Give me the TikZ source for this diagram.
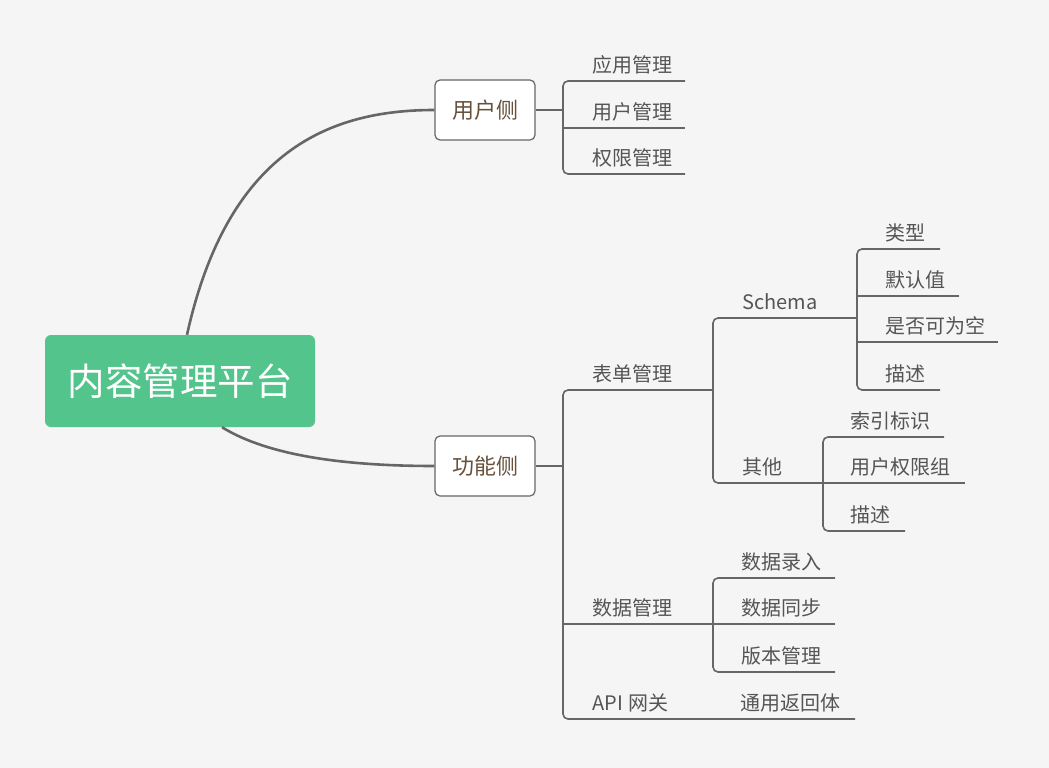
\documentclass[tikz,border=0pt]{standalone}
\usepackage{fontspec}
\newfontfamily\cjk{Noto Sans CJK SC}
\definecolor{bg}{HTML}{F5F5F5}
\definecolor{rootgreen}{HTML}{52C48C}
\definecolor{linegray}{HTML}{666666}
\definecolor{leafgray}{HTML}{555555}
\definecolor{brown}{HTML}{67513B}
\tikzset{
  leaf/.style={font=\cjk\fontsize{20pt}{23pt}\selectfont, text=leafgray, anchor=west, inner sep=0pt},
  mid/.style={draw=linegray, line width=1.2pt, fill=white, rounded corners=5pt, minimum width=100pt, minimum height=60pt, inner sep=0pt, font=\cjk\fontsize{22pt}{25pt}\selectfont, text=brown},
  rootbox/.style={fill=rootgreen, rounded corners=6pt, minimum width=270pt, minimum height=92pt, inner sep=0pt, font=\cjk\fontsize{37.5pt}{41pt}\selectfont, text=white},
  ln/.style={draw=linegray, line width=1.6pt},
  br/.style={draw=linegray, line width=1.6pt, rounded corners=5pt},
  cv/.style={draw=linegray, line width=2.6pt}
}
\begin{document}
\begin{tikzpicture}[x=1pt,y=-1pt]
\fill[bg] (0,0) rectangle (1049,768);
\useasboundingbox (0,0) rectangle (1049,768);

% main nodes
\node[rootbox] (root) at (180,381) {\raisebox{-3pt}{内容管理平台}};
\node[mid] (user) at (485,110) {用户侧};
\node[mid] (func) at (485,466) {功能侧};

% curves
\draw[cv] ([xshift=7pt]root.north) .. controls (228,150) and (330,110) .. (user.west);
\draw[cv] ([xshift=42pt]root.south) .. controls (262,452) and (330,466) .. (func.west);

% ---------- user side ----------
\coordinate (b1) at (563,110);
\draw[ln] (user.east) -- (b1);
\node[leaf] (u1) at (592,65) {应用管理};
\node[leaf] (u2) at (592,112) {用户管理};
\node[leaf] (u3) at (592,158) {权限管理};
\coordinate (u1e) at (685,81);
\coordinate (u2e) at (685,128);
\coordinate (u3e) at (685,174);
\draw[br] (u1e) -- (u1e -| b1) -- (u3e -| b1) -- (u3e);
\draw[ln] (u2e -| b1) -- (u2e);

% ---------- function side ----------
\coordinate (b2) at (563,466);
\draw[ln] (func.east) -- (b2);
\node[leaf] (f1) at (592,374) {表单管理};
\node[leaf] (f2) at (592,608) {数据管理};
\node[leaf] (f3) at (592,703) {API\hspace{6pt}网关};
\coordinate (f1e) at (713,390);
\coordinate (f2e) at (713,624);
\node[leaf] (g1) at (740,703) {通用返回体};
\coordinate (g1e) at (855,719);
\draw[br] (f1e) -- (f1e -| b2) -- (g1e -| b2) -- (g1e);
\draw[ln] (f2e -| b2) -- (f2e);

% 表单管理 children
\node[leaf] (s0) at (742,302) {Schema};
\node[leaf] (o0) at (742,467) {其他};
\coordinate (s0e) at (857,318);
\coordinate (o0e) at (823,483);
\draw[br] (s0e) -- (s0e -| f1e) -- (o0e -| f1e) -- (o0e);

% Schema children
\node[leaf] (s1) at (885,233) {类型};
\node[leaf] (s2) at (885,280) {默认值};
\node[leaf] (s3) at (885,326) {是否可为空};
\node[leaf] (s4) at (885,374) {描述};
\coordinate (s1e) at (940,249);
\coordinate (s2e) at (959,296);
\coordinate (s3e) at (998,342);
\coordinate (s4e) at (940,390);
\draw[br] (s1e) -- (s1e -| s0e) -- (s4e -| s0e) -- (s4e);
\draw[ln] (s2e -| s0e) -- (s2e);
\draw[ln] (s3e -| s0e) -- (s3e);

% 其他 children
\node[leaf] (o1) at (850,421) {索引标识};
\node[leaf] (o2) at (850,467) {用户权限组};
\node[leaf] (o3) at (850,515) {描述};
\coordinate (o1e) at (944,437);
\coordinate (o2e) at (965,483);
\coordinate (o3e) at (905,531);
\draw[br] (o1e) -- (o1e -| o0e) -- (o3e -| o0e) -- (o3e);
\draw[ln] (o0e) -- (o2e);

% 数据管理 children
\node[leaf] (d1) at (741,562) {数据录入};
\node[leaf] (d2) at (741,608) {数据同步};
\node[leaf] (d3) at (741,656) {版本管理};
\coordinate (d1e) at (835,578);
\coordinate (d2e) at (835,624);
\coordinate (d3e) at (835,672);
\draw[br] (d1e) -- (d1e -| f2e) -- (d3e -| f2e) -- (d3e);
\draw[ln] (f2e) -- (d2e);
\end{tikzpicture}
\end{document}
